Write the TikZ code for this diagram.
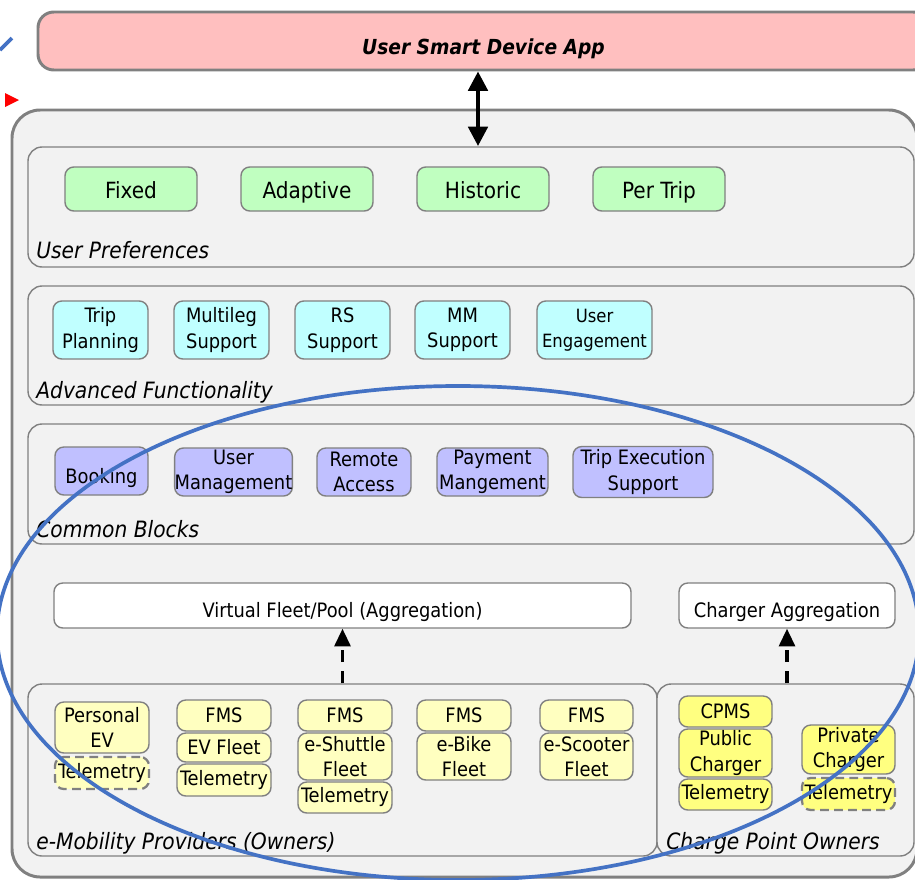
\documentclass[tikz,border=0pt]{standalone}
\usepackage{fontspec}
\setmainfont{DejaVu Sans Condensed}
\usetikzlibrary{positioning,arrows.meta,fit}

\definecolor{appred}{HTML}{FFBFBF}
\definecolor{areagray}{HTML}{F2F2F2}
\definecolor{edgegray}{HTML}{808080}
\definecolor{prefgreen}{HTML}{C0FFC0}
\definecolor{funccyan}{HTML}{C0FFFF}
\definecolor{blockblue}{HTML}{C0C0FF}
\definecolor{ownyellow}{HTML}{FFFFC0}
\definecolor{cpyellow}{HTML}{FFFF80}
\definecolor{markblue}{HTML}{4472C4}

\begin{document}
\begin{tikzpicture}[
  x=0.02cm, y=-0.02cm,
  every node/.style={font=\fontsize{11.3}{14.5}\selectfont},
  sz/.style 2 args={minimum width=#1*0.02cm, minimum height=#2*0.02cm},
  lowtext/.style={text height=#1, text depth=0pt},
  box/.style={draw=edgegray, line width=0.8pt, rounded corners=5pt,
    inner sep=0pt, align=center},
  pref/.style={box, fill=prefgreen, font=\fontsize{12.7}{14.5}\selectfont, lowtext=10.5pt},
  func/.style={box, fill=funccyan},
  block/.style={box, fill=blockblue},
  owner/.style={box, fill=ownyellow},
  cpoint/.style={box, fill=cpyellow},
  optional/.style={dashed, dash pattern=on 5pt off 3pt, line width=1.3pt},
  aggr/.style={box, fill=white, lowtext=14pt},
  panel/.style={draw=edgegray, line width=0.8pt, rounded corners=8pt,
    fill=areagray, inner sep=0pt},
  paneltitle/.style={anchor=base west, inner sep=0pt,
    font=\fontsize{12.8}{14}\selectfont\itshape},
  feed/.style={-{Triangle[length=10pt,width=9pt]}, line width=1.8pt,
    dash pattern=on 7pt off 5pt},
  biarrow/.style={{Triangle[length=11pt,width=11pt]}-{Triangle[length=11pt,width=11pt]},
    line width=2.2pt},
  ring/.style={draw=markblue, line width=2.1pt}
]
\clip (0,0) rectangle (915,879);

% app on the device and the platform around it
\node[box, fill=appred, line width=1.7pt, rounded corners=9pt, sz={891}{58}, lowtext=15.5pt,
  font=\fontsize{11.8}{14}\selectfont\bfseries\itshape] (app) at (483.5,41) {User Smart Device App};
\draw[draw=edgegray, fill=areagray, line width=1.7pt, rounded corners=16pt]
  (12,110) rectangle (917,877);
\fill[red] (5,93) -- (19,100) -- (5,107) -- cycle;

% user preferences
\node[panel, fit={(28,147) (914,267)}] (prefs) {};
\node[paneltitle] at (36,258) {User Preferences};
\node[pref, sz={132}{44}] (fixed) at (131,189) {Fixed};
\node[pref, sz={132}{44}] (adaptive) at (307,189) {Adaptive};
\node[pref, sz={132}{44}] (historic) at (483,189) {Historic};
\node[pref, sz={132}{44}] (pertrip) at (659,189) {Per Trip};

% advanced functionality
\node[panel, fit={(28,286) (914,405)}] (advanced) {};
\node[paneltitle] at (36,398) {Advanced Functionality};
\node[func, sz={95}{58}] (planning) at (100.5,330) {Trip\\Planning};
\node[func, sz={95}{58}] (multileg) at (221.5,330) {Multileg\\Support};
\node[func, sz={95}{58}] (rs) at (342.5,330) {RS\\Support};
\node[func, sz={95}{58}] (mm) at (462.5,330) {MM\\Support};
\node[func, sz={115}{58}, font=\fontsize{10.4}{14.5}\selectfont] (engage) at (594.5,330) {User\\Engagement};

% common blocks
\node[panel, fit={(28,424) (914,544)}] (common) {};
\node[paneltitle] at (36,537) {Common Blocks};
\node[block, sz={93}{48}, lowtext=14.5pt] (booking) at (101.5,471) {Booking};
\node[block, sz={117}{48}] (usermgmt) at (233.5,472) {User\\Management};
\node[block, sz={94}{48}] (remote) at (364,472) {Remote\\Access};
\node[block, sz={111}{48}] (payment) at (492.5,472) {Payment\\Mangement};
\node[block, sz={140}{51}] (execution) at (643,472) {Trip Execution\\Support};

% aggregation layer
\node[aggr, sz={577}{45}] (virtual) at (342.5,605.5) {Virtual Fleet/Pool (Aggregation)};
\node[aggr, sz={216}{45}] (chargeagg) at (787,605.5) {Charger Aggregation};

% e-mobility providers
\node[panel, fit={(28,684) (657,856)}] (emob) {};
\node[paneltitle] at (36,849) {e-Mobility Providers (Owners)};
\node[owner, sz={94}{51}] (personal) at (102,727.5) {Personal\\EV};
\node[owner, optional, sz={94}{32}] (teleA) at (102,773) {Telemetry};
\node[owner, sz={94}{31}] (fmsA) at (224,715.5) {FMS};
\node[owner, sz={94}{29}] (evfleet) at (224,747.5) {EV Fleet};
\node[owner, sz={94}{32}] (teleB) at (224,780) {Telemetry};
\node[owner, sz={94}{31}] (fmsB) at (345,715.5) {FMS};
\node[owner, sz={94}{47}] (shuttle) at (345,756.5) {e-Shuttle\\Fleet};
\node[owner, sz={94}{31}] (teleC) at (345,797.5) {Telemetry};
\node[owner, sz={94}{31}] (fmsC) at (464,715.5) {FMS};
\node[owner, sz={94}{47}] (bike) at (464,756.5) {e-Bike\\Fleet};
\node[owner, sz={93}{31}] (fmsD) at (586.5,715.5) {FMS};
\node[owner, sz={93}{47}] (scooter) at (586.5,756.5) {e-Scooter\\Fleet};

% charge point owners
\node[panel, fit={(657,684) (914,856)}] (cpo) {};
\node[paneltitle] at (666,849) {Charge Point Owners};
\node[cpoint, sz={93}{31}] (cpms) at (725.5,711.5) {CPMS};
\node[cpoint, sz={93}{48}] (public) at (725.5,753) {Public\\Charger};
\node[cpoint, sz={93}{31}] (teleD) at (725.5,794.5) {Telemetry};
\node[cpoint, sz={93}{49}] (private) at (848.5,749.5) {Private\\Charger};
\node[cpoint, optional, sz={93}{32}] (teleE) at (848.5,794) {Telemetry};

% links
\coordinate (appport) at (478,146);
\draw[biarrow] (app.south -| appport) -- (appport);
\draw[feed] (emob.north -| virtual.south) -- (virtual.south);
\draw[feed] (cpo.north -| chargeagg.south) -- (chargeagg.south);

% highlighted scope
\draw[ring] (458,633) ellipse (461 and 247);
\draw[ring] (0,50) -- (12,38);
\end{tikzpicture}
\end{document}
